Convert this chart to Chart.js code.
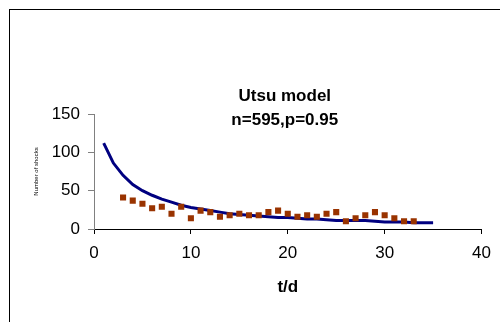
<!DOCTYPE html>
<html>
<head>
<meta charset="utf-8">
<script src="https://cdn.jsdelivr.net/npm/chart.js@4"></script>
<style>
  body { margin: 0; background: #fff; }
  #wrap { position: relative; width: 500px; height: 322px; }
  #frame { position: absolute; left: 9px; top: 9px; right: 0; bottom: 0;
           border-left: 1px solid #000; border-top: 1px solid #000; }
  canvas { position: absolute; left: 0; top: 0; }
</style>
</head>
<body>
<div id="wrap">
  <div id="frame"></div>
  <canvas id="myChart" width="500" height="322"></canvas>
</div>
<script>
// model curve, t = 1..35
const modelDays = [1,2,3,4,5,6,7,8,9,10,11,12,13,14,15,16,17,18,19,20,21,22,23,24,25,26,27,28,29,30,31,32,33,34,35];
const modelShocks = [112,86,70,58,50,44,39,35,31,28,26,24,22,20,19,18,17,16,15,15,14,13,13,12,11,11,11,11,10,9,9,9,8,8,8];

// observed counts, t = 3..33
const obsDays = [3,4,5,6,7,8,9,10,11,12,13,14,15,16,17,18,19,20,21,22,23,24,25,26,27,28,29,30,31,32,33];
const obsShocks = [41,37,33,27,29,20,29,14,24,22,16,18,20,18,18,22,24,20,16,18,16,20,22,10,14,18,22,18,14,10,10];

const titleLines = ["Utsu model", "n=595,p=0.95"];
const xTitle = "t/d";
const yTitle = "Number of shocks";

const FONT = "'Liberation Sans', Arial, sans-serif";

// title sits inside the plot, over the curve
const titlePlugin = {
  id: "insideTitle",
  afterDraw(chart) {
    const ctx = chart.ctx;
    const area = chart.chartArea;
    const cx = (area.left + area.right) / 2 - 3;
    ctx.save();
    ctx.fillStyle = "#000";
    ctx.font = "bold 17px " + FONT;
    ctx.textAlign = "center";
    ctx.textBaseline = "alphabetic";
    ctx.fillText(titleLines[0], cx, area.top - 13);
    ctx.fillText(titleLines[1], cx, area.top + 11);
    ctx.restore();
  }
};

function toPoints(xs, ys) {
  return xs.map((x, i) => ({ x: x, y: ys[i] }));
}

const data = {
  datasets: [
    {
      label: "observed",
      data: toPoints(obsDays, obsShocks),
      showLine: false,
      pointStyle: "rect",
      pointRadius: 4.3,
      pointBackgroundColor: "#993300",
      pointBorderColor: "#993300",
      pointBorderWidth: 0,
      order: 1
    },
    {
      label: "model",
      data: toPoints(modelDays, modelShocks),
      showLine: true,
      borderColor: "#000080",
      borderWidth: 3,
      pointRadius: 0,
      tension: 0,
      order: 2
    }
  ]
};

const config = {
  type: "scatter",
  data: data,
  options: {
    responsive: false,
    animation: false,
    layout: { padding: { top: 114, left: 10, right: 17, bottom: 0 } },
    plugins: { legend: { display: false }, tooltip: { enabled: false } },
    scales: {
      x: {
        min: 0, max: 40,
        afterFit: (scale) => { scale.height = 93; },
        ticks: { stepSize: 10, color: "#000", padding: 9, font: { family: FONT, size: 17 } },
        grid: { drawOnChartArea: false, drawTicks: true, tickLength: 5, color: "#000" },
        border: { display: true, color: "#000", width: 1 },
        title: { display: true, text: xTitle, color: "#000", font: { family: FONT, size: 17, weight: "bold" }, padding: { top: 0, bottom: 24 } }
      },
      y: {
        min: 0, max: 150,
        afterFit: (scale) => { scale.width = 84; },
        ticks: { stepSize: 50, color: "#000", padding: 8, font: { family: FONT, size: 17 } },
        grid: { drawOnChartArea: false, drawTicks: true, tickLength: 6, color: "#808080" },
        border: { display: true, color: "#808080", width: 1 },
        title: { display: true, text: yTitle, color: "#000", font: { family: FONT, size: 6 }, padding: { top: 23, bottom: 0 } }
      }
    }
  },
  plugins: [titlePlugin]
};

new Chart(document.querySelector("#myChart"), config);
</script>
</body>
</html>
